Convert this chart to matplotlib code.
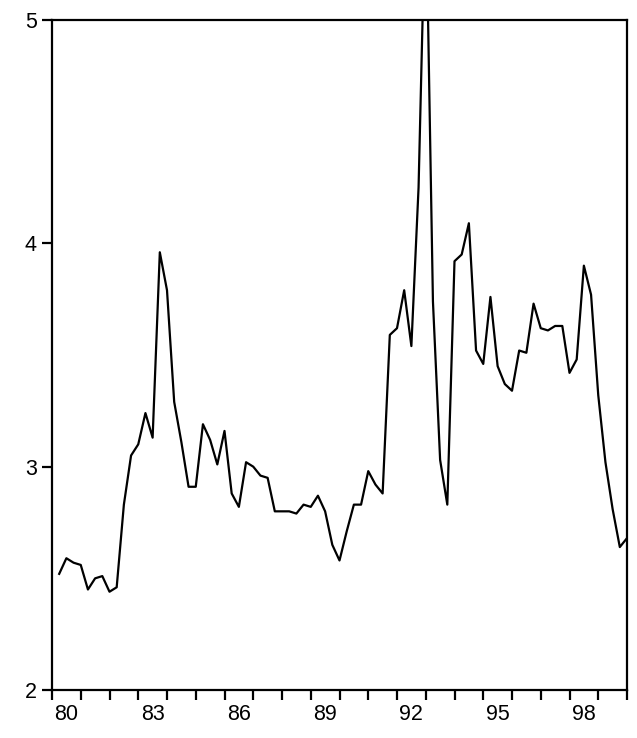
import matplotlib
matplotlib.use("Agg")
import matplotlib.pyplot as plt
import numpy as np

values = [2.52,2.59,2.57,2.56,2.45,2.50,2.51,2.44,2.46,2.83,
          3.05,3.10,3.24,3.13,3.96,3.79,3.29,3.11,2.91,2.91,
          3.19,3.12,3.01,3.16,2.88,2.82,3.02,3.00,2.96,2.95,
          2.80,2.80,2.80,2.79,2.83,2.82,2.87,2.80,2.65,2.58,
          2.71,2.83,2.83,2.98,2.92,2.88,3.59,3.62,3.79,3.54,
          4.25,5.6,3.74,3.03,2.83,3.92,3.95,4.09,3.52,3.46,
          3.76,3.45,3.37,3.34,3.52,3.51,3.73,3.62,3.61,3.63,
          3.63,3.42,3.48,3.90,3.77,3.32,3.02,2.81,2.64,2.68]
start_year = 80.25
t = start_year + 0.25*np.arange(len(values))
label_years = [80, 83, 86, 89, 92, 95, 98]

plt.rcParams['font.family'] = ['Liberation Sans', 'DejaVu Sans']
fig = plt.figure(figsize=(6.37, 7.38), dpi=100)
ax = fig.add_axes([52/637, 1-690/738, 575/637, 670/738])
ax.plot(t, values, color='black', lw=1.6, clip_on=True)
ax.set_xlim(80, 100)
ax.set_ylim(2, 5)
ax.set_yticks([2, 3, 4, 5])
ax.set_xticks(np.arange(80, 101, 1))
ax.set_xticklabels([])
ax.set_xticks([y+0.5 for y in label_years], minor=True)
ax.set_xticklabels([str(y) for y in label_years], minor=True)
ax.tick_params(axis='x', which='minor', length=0, labelsize=15.5, pad=10)
ax.tick_params(axis='x', which='major', length=7, width=1.6, direction='out')
ax.tick_params(axis='y', length=7, width=1.6, labelsize=15.5, pad=4)
for s in ax.spines.values():
    s.set_linewidth(1.6)
fig.savefig("out.png", dpi=100)
